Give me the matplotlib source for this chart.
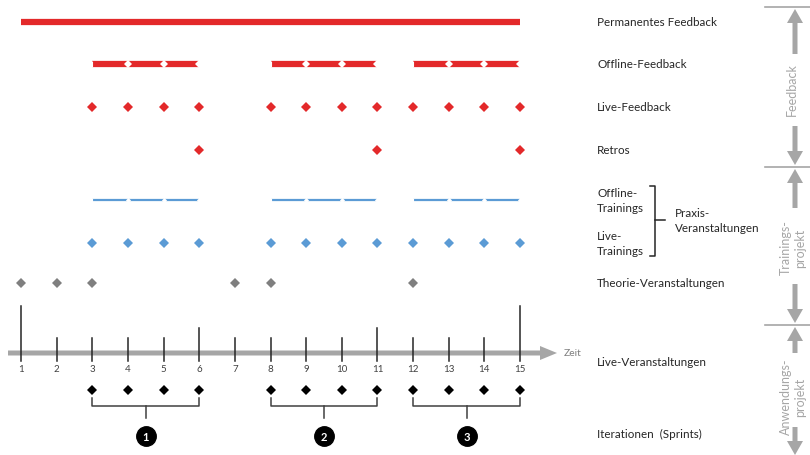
import numpy as np
import matplotlib.pyplot as plt
from matplotlib.patches import FancyArrow

plt.rcParams['font.family'] = ['Lato', 'DejaVu Sans']

# time units (Veranstaltungen 1..15)
zeit = list(range(1, 16))
offline_feedback = [(3, 6), (8, 11), (12, 15)]
offline_trainings = [(3, 6), (8, 11), (12, 15)]
live_feedback = [3, 4, 5, 6, 8, 9, 10, 11, 12, 13, 14, 15]
retros = [6, 11, 15]
live_trainings = [3, 4, 5, 6, 8, 9, 10, 11, 12, 13, 14, 15]
theorie = [1, 2, 3, 7, 8, 12]
iterationen = [3, 4, 5, 6, 8, 9, 10, 11, 12, 13, 14, 15]
sprints = [(3, 6, '1'), (8, 11, '2'), (12, 15, '3')]
tall_ticks = [1, 15]
mid_ticks = [6, 11]

row_labels = ['Permanentes Feedback', 'Offline-Feedback', 'Live-Feedback', 'Retros',
              'Offline-\nTrainings', 'Live-\nTrainings', 'Theorie-Veranstaltungen',
              'Live-Veranstaltungen', 'Iterationen  (Sprints)']
row_y = [23, 65, 108, 151, 201, 244, 284, 363, 434]

RED = '#e3292a'
BLUE = '#5b9bd5'
GRAY = '#7f7f7f'
LGRAY = '#a6a6a6'

fig = plt.figure(figsize=(8.1, 4.56), dpi=100)
ax = fig.add_axes([0, 0, 1, 1])
px = (520 - 21) / 14.0
ax.set_xlim(1 - 21 / px, 1 + 789 / px)
ax.set_ylim(456, 0)
ax.axis('off')

def xp(p):  # pixel -> x units, for things right of the timeline
    return 1 + (p - 21) / px

# permanent feedback
ax.plot([zeit[0], zeit[-1]], [row_y[0]] * 2, color=RED, lw=4.5, solid_capstyle='butt')

def segmented(spans, y, color, lw, ms):
    for a, b in spans:
        ax.plot([a, b], [y, y], color=color, lw=lw, solid_capstyle='butt')
        inner = list(range(a + 1, b + 1))
        ax.plot(inner, [y] * len(inner), 'D', color='white', ms=ms, mew=0)
        ax.plot([a], [y], '|', color='white', ms=ms, mew=0.8)

segmented(offline_feedback, row_y[1], RED, 4.5, 4)
segmented(offline_trainings, row_y[4], BLUE, 1.6, 2.6)

ax.plot(live_feedback, [row_y[2]] * len(live_feedback), 'D', color=RED, ms=5, mew=0)
ax.plot(retros, [row_y[3]] * len(retros), 'D', color=RED, ms=5, mew=0)
ax.plot(live_trainings, [row_y[5]] * len(live_trainings), 'D', color=BLUE, ms=5, mew=0)
ax.plot(theorie, [row_y[6]] * len(theorie), 'D', color=GRAY, ms=5, mew=0)

# timeline
ay = 354
ax.add_patch(FancyArrow(xp(8), ay, xp(557) - xp(8), 0, width=5, head_width=14,
                        head_length=xp(557) - xp(540), length_includes_head=True,
                        color=LGRAY, lw=0))
for t in zeit:
    top = 307 if t in tall_ticks else (329 if t in mid_ticks else 339)
    ax.plot([t, t], [top, 362], color='#262626', lw=1.1)
    ax.text(t, 370, str(t), ha='center', va='center', fontsize=7, color='#404040')
ax.text(xp(564), ay, 'Zeit', ha='left', va='center', fontsize=7.5, color=GRAY)

# iterations
ax.plot(iterationen, [391] * len(iterationen), 'D', color='black', ms=5, mew=0)
for a, b, n in sprints:
    ax.plot([a, a, b, b], [399, 407, 407, 399], color='#404040', lw=1.1)
    m = (a + b) / 2
    ax.plot([m, m], [407, 419], color='#404040', lw=1.1)
    ax.plot(m, 437, 'o', color='black', ms=14)
    ax.text(m, 437.5, n, ha='center', va='center', color='white', fontsize=8, fontweight='bold')

# row labels
for lab, y in zip(row_labels, row_y):
    ax.text(xp(597), y, lab, ha='left', va='center', fontsize=8.4, color='#262626', linespacing=1.5)
ax.plot([xp(650), xp(655), xp(655), xp(650)], [187, 187, 257, 257], color='#262626', lw=1.1)
ax.plot([xp(655), xp(665)], [221, 221], color='#262626', lw=1.1)
ax.text(xp(675), 221, 'Praxis-\nVeranstaltungen', ha='left', va='center', fontsize=8.4,
        color='#262626', linespacing=1.5)

# right hand separators
for y in [8, 168, 326]:
    ax.plot([xp(765), xp(810)], [y, y], color=LGRAY, lw=1.2)

# arrows drawn in pixel space on a second axes to keep widths in pixels
ax2 = fig.add_axes([0, 0, 1, 1])
ax2.set_xlim(0, 810)
ax2.set_ylim(456, 0)
ax2.axis('off')
for y0, y1 in [(55, 10), (127, 166), (209, 170), (285, 324), (354, 328), (428, 456)]:
    ax2.add_patch(FancyArrow(795, y0, 0, y1 - y0, width=5, head_width=16, head_length=14,
                             length_includes_head=True, color=LGRAY, lw=0))
ax2.text(792, 90, 'Feedback', rotation=90, ha='center', va='center', fontsize=9, color=LGRAY)
ax2.text(793, 248, 'Trainings-\nprojekt', rotation=90, ha='center', va='center', fontsize=9,
         color=LGRAY, linespacing=1.2)
ax2.text(793, 397, 'Anwendungs-\nprojekt', rotation=90, ha='center', va='center', fontsize=9,
         color=LGRAY, linespacing=1.2)

fig.savefig('out.png', dpi=100)
